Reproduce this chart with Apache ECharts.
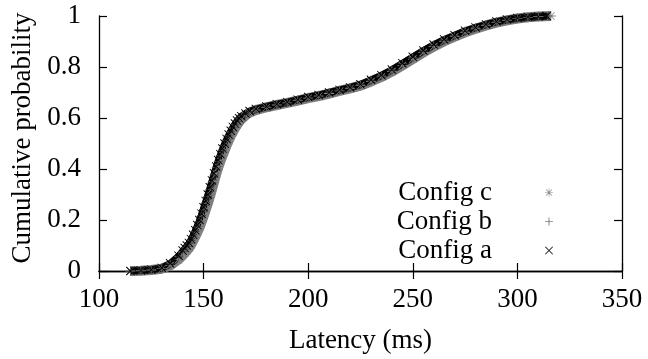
<!DOCTYPE html>
<html>
<head>
<meta charset="utf-8">
<script src="https://cdn.jsdelivr.net/npm/echarts@6/dist/echarts.min.js"></script>
<style>
  html, body { margin: 0; padding: 0; background: #fff; }
  #chart { width: 648px; height: 359px; }
</style>
</head>
<body>
<div id="chart"></div>
<script>
// Latency samples (ms) and cumulative probabilities for each configuration
const latencyA = [115,120,125,130,134,138,140,141,142,143,144,145,146,147,148,149,150,151,152,153,154,155,156,157,158,159,160,161,162,163,164,165,166,167,168,170,172,175,180,185,190,195,200,205,210,215,220,225,230,235,240,245,250,255,260,265,270,275,280,285,290,295,300,305,310,314];
const probA    = [0.000,0.002,0.005,0.012,0.030,0.060,0.080,0.090,0.100,0.110,0.125,0.142,0.160,0.180,0.200,0.225,0.250,0.275,0.300,0.328,0.355,0.383,0.410,0.435,0.458,0.480,0.500,0.518,0.535,0.550,0.565,0.578,0.590,0.599,0.607,0.618,0.627,0.635,0.645,0.654,0.662,0.672,0.682,0.690,0.700,0.710,0.720,0.732,0.750,0.768,0.790,0.815,0.840,0.865,0.888,0.908,0.925,0.942,0.955,0.967,0.978,0.986,0.992,0.996,0.998,1.000];

const latencyB = [115,120,125,130,134,138,140,141,142,143,144,145,146,147,148,149,150,151,152,153,154,155,156,157,158,159,160,161,162,163,164,165,166,167,168,170,172,175,180,185,190,195,200,205,210,215,220,225,230,235,240,245,250,255,260,265,270,275,280,285,290,295,300,305,310,315];
const probB    = [0.000,0.002,0.005,0.011,0.028,0.056,0.076,0.086,0.096,0.106,0.120,0.137,0.155,0.174,0.193,0.217,0.242,0.267,0.292,0.320,0.348,0.376,0.404,0.429,0.452,0.474,0.494,0.513,0.530,0.546,0.561,0.575,0.587,0.597,0.605,0.616,0.625,0.634,0.644,0.653,0.661,0.671,0.681,0.689,0.699,0.709,0.719,0.731,0.748,0.766,0.788,0.813,0.838,0.863,0.886,0.906,0.923,0.940,0.954,0.966,0.977,0.985,0.991,0.995,0.998,1.000];

const latencyC = [115,120,125,130,134,138,140,141,142,143,144,145,146,147,148,149,150,151,152,153,154,155,156,157,158,159,160,161,162,163,164,165,166,167,168,170,172,175,180,185,190,195,200,205,210,215,220,225,230,235,240,245,250,255,260,265,270,275,280,285,290,295,300,305,310,316];
const probC    = [0.000,0.001,0.004,0.009,0.022,0.045,0.062,0.071,0.080,0.090,0.103,0.118,0.135,0.152,0.170,0.192,0.215,0.240,0.265,0.292,0.320,0.350,0.380,0.406,0.430,0.452,0.472,0.493,0.512,0.530,0.545,0.560,0.573,0.585,0.595,0.610,0.621,0.631,0.642,0.651,0.659,0.668,0.678,0.686,0.696,0.706,0.716,0.727,0.743,0.761,0.782,0.806,0.831,0.857,0.880,0.901,0.919,0.936,0.950,0.963,0.974,0.983,0.990,0.995,0.998,1.000];

const seriesNames = ['Config c', 'Config b', 'Config a'];
const xTicks = { min: 100, max: 350, step: 50 };
const yTicks = { min: 0, max: 1, step: 0.2 };

// Marker shapes: asterisk, plus and cross
const ICON_CROSS = 'path://M0,0.7 L0.7,0 L10,9.3 L9.3,10 Z M9.3,0 L10,0.7 L0.7,10 L0,9.3 Z';
const ICON_PLUS  = 'path://M4.6,0 L5.4,0 L5.4,4.6 L10,4.6 L10,5.4 L5.4,5.4 L5.4,10 L4.6,10 L4.6,5.4 L0,5.4 L0,4.6 L4.6,4.6 Z';
const ICON_STAR  = 'path://M4.6,0 L5.4,0 L5.4,4.6 L10,4.6 L10,5.4 L5.4,5.4 L5.4,10 L4.6,10 L4.6,5.4 L0,5.4 L0,4.6 L4.6,4.6 Z M1,1.6 L1.6,1 L9,8.4 L8.4,9 Z M8.4,1 L9,1.6 L1.6,9 L1,8.4 Z';
const seriesIcons = [ICON_STAR, ICON_PLUS, ICON_CROSS];

const FONT = '"Liberation Serif", "DejaVu Serif", serif';
const FONT_SIZE = 27;
const pairs = (xs, ys) => xs.map((x, i) => [x, ys[i]]);

const chart = echarts.init(document.getElementById('chart'), null, { renderer: 'canvas' });

const frame = { show: true, lineStyle: { color: '#000', width: 1.3 } };
const innerTick = { show: true, inside: true, length: 8, lineStyle: { color: '#000', width: 1.2 } };

chart.setOption({
  animation: false,
  backgroundColor: '#fff',
  grid: { left: 99, right: 26, top: 16, bottom: 88, containLabel: false },
  legend: {
    orient: 'vertical',
    align: 'right',
    right: 90,
    top: 173,
    itemWidth: 104,
    itemHeight: 8,
    itemGap: 0,
    symbolKeepAspect: true,
    data: seriesNames.map((name, i) => ({ name, icon: seriesIcons[i] })),
    textStyle: { fontFamily: FONT, fontSize: FONT_SIZE, color: '#000', lineHeight: 29 }
  },
  xAxis: [
    {
      type: 'value', position: 'bottom',
      min: xTicks.min, max: xTicks.max, interval: xTicks.step,
      axisLine: frame, axisTick: innerTick, splitLine: { show: false },
      axisLabel: { fontFamily: FONT, fontSize: FONT_SIZE, color: '#000', margin: 15 },
      name: 'Latency (ms)', nameLocation: 'middle', nameGap: 56,
      nameTextStyle: { fontFamily: FONT, fontSize: FONT_SIZE, color: '#000' }
    },
    {
      type: 'value', position: 'top',
      min: xTicks.min, max: xTicks.max, interval: xTicks.step,
      axisLine: frame, axisTick: innerTick, splitLine: { show: false },
      axisLabel: { show: false }
    }
  ],
  yAxis: [
    {
      type: 'value', position: 'left',
      min: yTicks.min, max: yTicks.max, interval: yTicks.step,
      axisLine: frame, axisTick: innerTick, splitLine: { show: false },
      axisLabel: { fontFamily: FONT, fontSize: FONT_SIZE, color: '#000', margin: 18 },
      name: 'Cumulative probability', nameLocation: 'middle', nameGap: 62,
      nameTextStyle: { fontFamily: FONT, fontSize: FONT_SIZE, color: '#000', padding: [0, 0, 0, 11] }
    },
    {
      type: 'value', position: 'right',
      min: yTicks.min, max: yTicks.max, interval: yTicks.step,
      axisLine: frame, axisTick: innerTick, splitLine: { show: false },
      axisLabel: { show: false }
    }
  ],
  series: [
    {
      name: 'Config c', type: 'line', data: pairs(latencyC, probC),
      symbol: ICON_STAR, symbolSize: 10, showAllSymbol: true,
      itemStyle: { color: '#8a8a8a' },
      lineStyle: { color: '#7d7d7d', width: 10 }
    },
    {
      name: 'Config b', type: 'line', data: pairs(latencyB, probB),
      symbol: ICON_PLUS, symbolSize: 9, showAllSymbol: true,
      itemStyle: { color: '#444' },
      lineStyle: { color: '#1e1e1e', width: 7.5 }
    },
    {
      name: 'Config a', type: 'line', data: pairs(latencyA, probA),
      symbol: ICON_CROSS, symbolSize: 9, showAllSymbol: true,
      itemStyle: { color: '#000' },
      lineStyle: { color: '#000', width: 6 }
    }
  ]
});
</script>
</body>
</html>
